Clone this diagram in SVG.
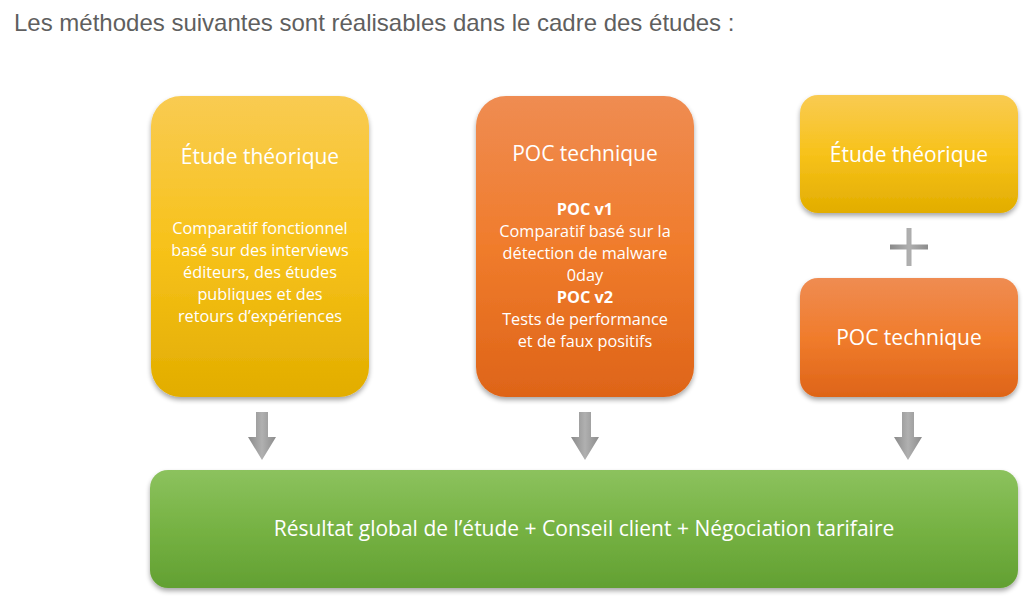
<svg xmlns="http://www.w3.org/2000/svg" width="1024" height="598" viewBox="0 0 1024 598">
<defs>
<linearGradient id="gY" x1="0" y1="0" x2="0" y2="1">
<stop offset="0" stop-color="#f9cb52"/><stop offset="0.5" stop-color="#f7c21a"/><stop offset="1" stop-color="#e2ad00"/>
</linearGradient>
<linearGradient id="gO" x1="0" y1="0" x2="0" y2="1">
<stop offset="0" stop-color="#ef8c52"/><stop offset="0.5" stop-color="#f07c2c"/><stop offset="1" stop-color="#de6418"/>
</linearGradient>
<linearGradient id="gG" x1="0" y1="0" x2="0" y2="1">
<stop offset="0" stop-color="#8cc25e"/><stop offset="0.5" stop-color="#76b243"/><stop offset="1" stop-color="#62a032"/>
</linearGradient>
<linearGradient id="gA" x1="0" y1="0" x2="1" y2="0">
<stop offset="0" stop-color="#8a8a8a"/><stop offset="0.5" stop-color="#b0b0b0"/><stop offset="1" stop-color="#8c8c8c"/>
</linearGradient>
<filter id="sh" x="-10%" y="-10%" width="120%" height="125%">
<feGaussianBlur in="SourceAlpha" stdDeviation="2.5"/>
<feOffset dx="0" dy="3" result="b"/>
<feComponentTransfer><feFuncA type="linear" slope="0.35"/></feComponentTransfer>
<feMerge><feMergeNode/><feMergeNode in="SourceGraphic"/></feMerge>
</filter>
</defs>
<style>
.t{font-family:"Open Sans","Liberation Sans",sans-serif;fill:#ffffff;text-anchor:middle}
.h{font-size:21px}
.b{font-size:16.3px}
.g{font-size:21px}
.bb{font-weight:bold}
.ttl{font-family:"Liberation Sans",Arial,sans-serif;font-size:24px;fill:#5f5f5f}
.arr{fill:url(#gA)}
</style>
<rect width="1024" height="598" fill="#ffffff"/>
<text class="ttl" x="14" y="31">Les méthodes suivantes sont réalisables dans le cadre des études :</text>

<g id="connectors">
<path class="arr" d="M256 412 H268 V437 H276 L262 460 L248 437 H256 Z"/>
<path class="arr" d="M579 412 H591 V437 H599 L585 460 L571 437 H579 Z"/>
<path class="arr" d="M902 412 H914 V437 H922 L908 460 L894 437 H902 Z"/>
<path class="arr" d="M906.5 228 H911.5 V244.5 H928 V249.5 H911.5 V266 H906.5 V249.5 H890 V244.5 H906.5 Z"/>
</g>

<g id="etude1">
<rect x="151" y="96" width="218" height="301" rx="30" fill="url(#gY)" filter="url(#sh)"/>
<text class="t h" x="260" y="164">Étude théorique</text>
<text class="t b" x="260" y="234">Comparatif fonctionnel</text>
<text class="t b" x="260" y="256">basé sur des interviews</text>
<text class="t b" x="260" y="278">éditeurs, des études</text>
<text class="t b" x="260" y="300">publiques et des</text>
<text class="t b" x="260" y="322">retours d’expériences</text>
</g>

<g id="poc1">
<rect x="476" y="96" width="218" height="301" rx="30" fill="url(#gO)" filter="url(#sh)"/>
<text class="t h" x="585" y="161">POC technique</text>
<text class="t b bb" x="585" y="215">POC v1</text>
<text class="t b" x="585" y="237">Comparatif basé sur la</text>
<text class="t b" x="585" y="259">détection de malware</text>
<text class="t b" x="585" y="281">0day</text>
<text class="t b bb" x="585" y="303">POC v2</text>
<text class="t b" x="585" y="325">Tests de performance</text>
<text class="t b" x="585" y="347">et de faux positifs</text>
</g>

<g id="etude2">
<rect x="800" y="95" width="218" height="118" rx="18" fill="url(#gY)" filter="url(#sh)"/>
<text class="t h" x="909" y="162">Étude théorique</text>
</g>

<g id="poc2">
<rect x="800" y="278" width="218" height="119" rx="18" fill="url(#gO)" filter="url(#sh)"/>
<text class="t h" x="909" y="345">POC technique</text>
</g>

<g id="resultat">
<rect x="150" y="470" width="868" height="118" rx="18" fill="url(#gG)" filter="url(#sh)"/>
<text class="t g" x="584" y="536">Résultat global de l’étude + Conseil client + Négociation tarifaire</text>
</g>
</svg>
